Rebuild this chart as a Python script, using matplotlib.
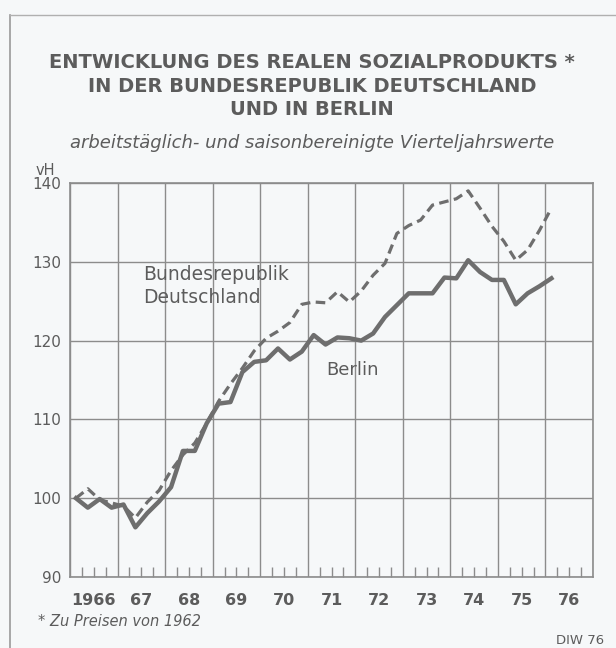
import matplotlib
matplotlib.use("Agg")
import matplotlib.pyplot as plt
from matplotlib.lines import Line2D
import numpy as np

# ---- data (quarterly, 1966 Q1 .. 1976 Q1, index 1966 Q1 = 100) ----
quarters = [f"{y}Q{q}" for y in range(1966, 1977) for q in range(1, 5)][:41]
brd = [100, 101.2, 99.8, 99.4, 99.0, 97.5, 99.5, 101.0, 103.5, 105.5,
       107.0, 109.5, 112.3, 114.5, 116.5, 118.7, 120.3, 121.2, 122.3, 124.6,
       124.9, 124.8, 126.2, 124.9, 126.3, 128.3, 129.8, 133.6, 134.6, 135.3,
       137.2, 137.6, 138.0, 139.0, 136.8, 134.5, 132.6, 130.2, 131.5, 134.0,
       136.8]
berlin = [100, 98.8, 99.9, 98.8, 99.2, 96.3, 98.1, 99.6, 101.4, 106.0,
          106.0, 109.5, 112.0, 112.2, 116.0, 117.3, 117.5, 119.0, 117.6, 118.6,
          120.7, 119.5, 120.4, 120.3, 120.0, 120.9, 123.0, 124.5, 126.0, 126.0,
          126.0, 128.0, 127.9, 130.2, 128.7, 127.7, 127.7, 124.6, 126.0, 126.9,
          127.9]
year_labels = ["1966", "67", "68", "69", "70", "71", "72", "73", "74", "75", "76"]
y_ticks = [90, 100, 110, 120, 130, 140]

x = 1966 + np.arange(len(quarters)) / 4 + 0.125

LINE = "#6e6e6e"
GRID = "#8c8c8c"
TXT = "#5c5c5c"
BG = "#f6f8f9"

W, H = 616, 648
fig = plt.figure(figsize=(W / 100, H / 100), dpi=100, facecolor=BG)

# frame lines of the page
fig.add_artist(Line2D([10 / W, 10 / W], [0, 1 - 15 / H], color="#9a9a9a", lw=1.2))
fig.add_artist(Line2D([10 / W, 1], [1 - 15 / H, 1 - 15 / H], color="#b0b0b0", lw=1.0))

left, right, top, bottom = 70, 593, 183, 577
ax = fig.add_axes([left / W, 1 - bottom / H, (right - left) / W, (bottom - top) / H])
ax.set_facecolor(BG)

ax.plot(x, brd, color=LINE, lw=2.3, dashes=(3.0, 1.7), solid_joinstyle="round",
        zorder=3)
ax.plot(x, berlin, color=LINE, lw=3.2, solid_joinstyle="round", zorder=4)

ax.set_xlim(1966, 1977)
ax.set_ylim(90, 140)

# year gridlines (major), quarter ticks (minor)
ax.set_xticks(np.arange(1966, 1978))
ax.set_xticklabels([])
ax.set_xticks([yr + q / 4 for yr in range(1966, 1977) for q in (1, 2, 3)], minor=True)
ax.tick_params(axis="x", which="major", length=0)
ax.tick_params(axis="x", which="minor", direction="in", length=7, width=1.0,
               color=GRID)
ax.set_yticks(y_ticks)
ax.set_yticklabels([str(v) for v in y_ticks], fontsize=11, color=TXT)
ax.tick_params(axis="y", length=0, pad=6)
ax.grid(True, which="major", color=GRID, lw=1.0)
for s in ax.spines.values():
    s.set_color(GRID)
    s.set_linewidth(1.2)

# year labels centred in each year
for i, lab in enumerate(year_labels):
    ax.text(1966.5 + i, 88.0, lab, ha="center", va="top", fontsize=11.5,
            color=TXT, fontweight="bold")

ax.text(-0.065, 1.012, "vH", transform=ax.transAxes, fontsize=10.5,
        color=TXT, ha="left", va="bottom")

# series labels
ax.text(1967.54, 126.9, "Bundesrepublik\nDeutschland", fontsize=13.5, color=TXT,
        ha="left", va="center", linespacing=1.3)
ax.text(1971.39, 116.3, "Berlin", fontsize=13, color=TXT, ha="left",
        va="center")

# titles
title = ("ENTWICKLUNG DES REALEN SOZIALPRODUKTS *\n"
         "IN DER BUNDESREPUBLIK DEUTSCHLAND\n"
         "UND IN BERLIN")
fig.text(0.5 + 4 / W, 1 - 86 / H, title, ha="center", va="center",
         fontsize=14, fontweight="bold", color=TXT, linespacing=1.3,
         family="DejaVu Sans")
fig.text(0.5 + 4 / W, 1 - 143 / H,
         "arbeitstäglich- und saisonbereinigte Vierteljahrswerte",
         ha="center", va="center", fontsize=13, style="italic", color=TXT)

fig.text(38 / W, 1 - 622 / H, "* Zu Preisen von 1962", ha="left",
         va="center", fontsize=10.5, style="italic", color=TXT)
fig.text(604 / W, 1 - 640 / H, "DIW 76", ha="right", va="center",
         fontsize=9.5, color=TXT)

fig.savefig("out.png", dpi=100, facecolor=BG)
